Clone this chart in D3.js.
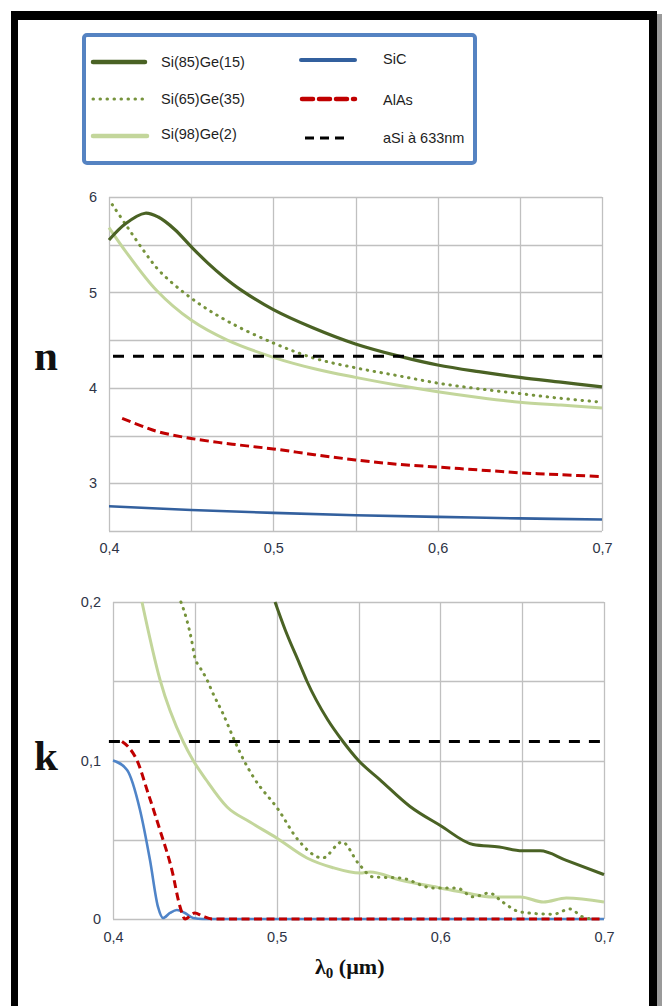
<!DOCTYPE html>
<html><head><meta charset="utf-8">
<script src="https://cdn.jsdelivr.net/npm/d3@7"></script>
<style>html,body{margin:0;padding:0;background:#fff;}svg{display:block;}</style>
</head><body>
<script>
// ---------- data ----------
const xTicks = [0.4, 0.45, 0.5, 0.55, 0.6, 0.65, 0.7];
const xTickLabels = ["0,4", "0,5", "0,6", "0,7"];
const xLabelValues = [0.4, 0.5, 0.6, 0.7];
const nGrid = [2.5, 3, 3.5, 4, 4.5, 5, 5.5, 6];
const nLabelValues = [3, 4, 5, 6];
const nTickLabels = ["3", "4", "5", "6"];
const kGrid = [0, 0.05, 0.1, 0.15, 0.2];
const kLabelValues = [0, 0.1, 0.2];
const kTickLabels = ["0", "0,1", "0,2"];

const seriesNames = ["Si(85)Ge(15)", "Si(65)Ge(35)", "Si(98)Ge(2)", "SiC", "AlAs", "aSi à 633nm"];

// refractive index n: [lambda (µm), n]
const nSiGe85 = [[0.4,5.55],[0.41,5.72],[0.422,5.83],[0.43,5.79],[0.44,5.66],[0.45,5.48],[0.46,5.31],[0.47,5.16],[0.48,5.03],[0.5,4.82],[0.524,4.63],[0.55,4.46],[0.577,4.33],[0.6,4.24],[0.625,4.17],[0.65,4.11],[0.675,4.06],[0.7,4.01]];
const nSiGe65 = [[0.402,5.92],[0.411,5.69],[0.421,5.44],[0.431,5.22],[0.45,4.94],[0.472,4.70],[0.5,4.47],[0.525,4.31],[0.55,4.21],[0.575,4.13],[0.6,4.05],[0.625,3.99],[0.65,3.94],[0.675,3.89],[0.7,3.85]];
const nSiGe98 = [[0.4,5.68],[0.411,5.41],[0.429,5.02],[0.45,4.71],[0.472,4.50],[0.5,4.32],[0.525,4.20],[0.55,4.11],[0.575,4.03],[0.6,3.96],[0.625,3.90],[0.65,3.85],[0.675,3.82],[0.7,3.79]];
const nSiC = [[0.4,2.76],[0.45,2.72],[0.5,2.69],[0.55,2.665],[0.6,2.648],[0.65,2.632],[0.7,2.62]];
const nAlAs = [[0.408,3.68],[0.42,3.60],[0.43,3.54],[0.45,3.47],[0.475,3.41],[0.5,3.36],[0.525,3.30],[0.55,3.245],[0.575,3.20],[0.6,3.17],[0.625,3.14],[0.65,3.11],[0.675,3.09],[0.7,3.07]];
const nASi = [[0.4,4.33],[0.7,4.33]];

// extinction coefficient k: [lambda (µm), k]
const kSiGe85 = [[0.499,0.2],[0.505,0.183],[0.514,0.161],[0.5185,0.15],[0.531,0.126],[0.5405,0.112],[0.55,0.100],[0.563,0.088],[0.5815,0.071],[0.6,0.059],[0.62,0.047],[0.636,0.0454],[0.65,0.043],[0.661,0.043],[0.677,0.037],[0.7,0.028]];
const kSiGe65 = [[0.4415,0.2],[0.445,0.189],[0.448,0.176],[0.45,0.165],[0.453,0.159],[0.4574,0.151],[0.461,0.1425],[0.467,0.13],[0.4745,0.112],[0.48,0.1],[0.4855,0.09],[0.501,0.069],[0.513,0.05],[0.528,0.0385],[0.54,0.0486],[0.55,0.035],[0.559,0.0265],[0.5755,0.0259],[0.5955,0.0196],[0.61,0.0196],[0.62,0.014],[0.63,0.0164],[0.638,0.0107],[0.649,0.0044],[0.669,0.003],[0.679,0.0063],[0.687,0.0013],[0.693,0]];
const kSiGe98 = [[0.4177,0.2],[0.4287,0.151],[0.4428,0.112],[0.449,0.1],[0.457,0.0877],[0.4697,0.0707],[0.4837,0.0612],[0.5,0.0511],[0.5185,0.0385],[0.534,0.0325],[0.551,0.029],[0.557,0.0297],[0.5755,0.0246],[0.6,0.0196],[0.616,0.0164],[0.632,0.0139],[0.649,0.0139],[0.663,0.0107],[0.677,0.0132],[0.7,0.0107]];
const kSiC = [[0.4,0.1],[0.4086,0.094],[0.4165,0.0688],[0.4226,0.0372],[0.4275,0.0076],[0.4306,0.0006],[0.4348,0.0038],[0.439,0.0057],[0.444,0.0038],[0.449,0.0006],[0.455,0],[0.7,0]];
const kAlAs = [[0.4055,0.112],[0.409,0.109],[0.4147,0.1],[0.4214,0.0795],[0.4287,0.0561],[0.436,0.0309],[0.441,0.0076],[0.444,0],[0.45,0.0038],[0.4544,0.002],[0.461,0],[0.7,0]];
const kASi = [[0.3975,0.112],[0.7,0.112]];

// ---------- styles ----------
const C = {
  g85: "#4a6224", g65: "#76933c", g98: "#c3d69b",
  sicTop: "#33609e", sicBot: "#4f84c8", alas: "#c00000", asi: "#000000",
  grid: "#c0c0c0", tick: "#2e3446"
};

const W = 662, H = 1006;
const svg = d3.select("body").append("svg").attr("width", W).attr("height", H);

// outer frame
svg.append("rect").attr("x", 0).attr("y", 0).attr("width", W).attr("height", H).attr("fill", "#fff");
svg.append("rect").attr("x", 656).attr("y", 14).attr("width", 6).attr("height", H).attr("fill", "#9a9a9a");
svg.append("rect").attr("x", 11).attr("y", 11).attr("width", 646).attr("height", 9).attr("fill", "#000");
svg.append("rect").attr("x", 11).attr("y", 11).attr("width", 7).attr("height", H).attr("fill", "#000");
svg.append("rect").attr("x", 649).attr("y", 11).attr("width", 8).attr("height", H).attr("fill", "#000");

// ---------- legend ----------
svg.append("rect").attr("x", 84).attr("y", 35).attr("width", 391).attr("height", 128)
  .attr("rx", 3).attr("fill", "#fff").attr("stroke", "#5583c2").attr("stroke-width", 4);

const legendItems = [
  {name: seriesNames[0], x1: 93, x2: 145, y: 62, ty: 67, tx: 161, color: C.g85, w: 4.5, dash: null, cap: "round"},
  {name: seriesNames[1], x1: 93, x2: 145, y: 99, ty: 104, tx: 161, color: C.g65, w: 3, dash: "0.5,6.5", cap: "round"},
  {name: seriesNames[2], x1: 93, x2: 147, y: 136, ty: 139, tx: 161, color: C.g98, w: 4.5, dash: null, cap: "round"},
  {name: seriesNames[3], x1: 301, x2: 355, y: 60, ty: 64, tx: 383, color: C.sicTop, w: 4, dash: null, cap: "round"},
  {name: seriesNames[4], x1: 302, x2: 355, y: 99, ty: 105, tx: 383, color: C.alas, w: 4.5, dash: "11,6", cap: "round"},
  {name: seriesNames[5], x1: 305, x2: 348, y: 138, ty: 143, tx: 383, color: C.asi, w: 3, dash: "9,6", cap: "butt"}
];
const lg = svg.append("g");
legendItems.forEach(d => {
  lg.append("line").attr("x1", d.x1).attr("x2", d.x2).attr("y1", d.y).attr("y2", d.y)
    .attr("stroke", d.color).attr("stroke-width", d.w).attr("stroke-linecap", d.cap)
    .attr("stroke-dasharray", d.dash);
  lg.append("text").attr("x", d.tx).attr("y", d.ty).text(d.name)
    .attr("font-family", "Liberation Sans, Arial, sans-serif").attr("font-size", 14.5).attr("fill", "#1e1e1e");
});

// ---------- helpers ----------
function drawGrid(g, x, y, yGrid) {
  const [x0, x1] = x.range(), [yb, yt] = y.range();
  g.selectAll(".vg").data(xTicks).join("line")
    .attr("x1", d => Math.round(x(d)) + 0.5).attr("x2", d => Math.round(x(d)) + 0.5)
    .attr("y1", yt).attr("y2", yb).attr("stroke", C.grid).attr("stroke-width", 1.3);
  g.selectAll(".hg").data(yGrid).join("line")
    .attr("x1", x0).attr("x2", x1)
    .attr("y1", d => Math.round(y(d)) + 0.5).attr("y2", d => Math.round(y(d)) + 0.5)
    .attr("stroke", C.grid).attr("stroke-width", 1.3);
}
function drawSeries(g, x, y, data, color, width, dash, cap, curve) {
  const line = d3.line().x(d => x(d[0])).y(d => y(d[1])).curve(curve || d3.curveMonotoneX);
  g.append("path").datum(data).attr("d", line).attr("fill", "none")
    .attr("stroke", color).attr("stroke-width", width)
    .attr("stroke-dasharray", dash).attr("stroke-linecap", cap || "butt")
    .attr("stroke-linejoin", "round");
}
const tickFont = "Liberation Sans, Arial, sans-serif";
const tickSize = 14.5;
const smooth = d3.curveCatmullRom.alpha(0.5);

// ---------- top chart : n ----------
const xN = d3.scaleLinear().domain([0.4, 0.7]).range([109, 602]);
const yN = d3.scaleLinear().domain([2.5, 6]).range([531, 197]);
const gN = svg.append("g");
drawGrid(gN, xN, yN, nGrid);

const yAxisN = d3.axisLeft(yN).tickValues(nLabelValues).tickFormat((d, i) => nTickLabels[i]).tickSize(0).tickPadding(12);
gN.append("g").attr("transform", `translate(109,0)`).call(yAxisN)
  .call(g => g.select(".domain").remove())
  .selectAll("text").attr("font-family", tickFont).attr("font-size", tickSize).attr("fill", C.tick);
const xAxisN = d3.axisBottom(xN).tickValues(xLabelValues).tickFormat((d, i) => xTickLabels[i]).tickSize(0).tickPadding(12);
gN.append("g").attr("transform", `translate(0,531)`).call(xAxisN)
  .call(g => g.select(".domain").remove())
  .selectAll("text").attr("font-family", tickFont).attr("font-size", tickSize).attr("fill", C.tick);

drawSeries(gN, xN, yN, nSiC, C.sicTop, 2.6, null, null, smooth);
drawSeries(gN, xN, yN, nAlAs, C.alas, 3, "9,4.5", null, smooth);
drawSeries(gN, xN, yN, nSiGe98, C.g98, 3, null, null, smooth);
drawSeries(gN, xN, yN, nSiGe65, C.g65, 3, "0.5,6.5", "round", smooth);
drawSeries(gN, xN, yN, nSiGe85, C.g85, 3.2, null, null, smooth);
drawSeries(gN, d3.scaleLinear().domain([0.4, 0.7]).range([113, 602]), yN, nASi, C.asi, 3, "11,9");

svg.append("text").attr("x", 34).attr("y", 370).text("n")
  .attr("font-family", "Liberation Serif, Times New Roman, serif").attr("font-weight", "bold")
  .attr("font-size", 43).attr("fill", "#111");

// ---------- bottom chart : k ----------
const xK = d3.scaleLinear().domain([0.4, 0.7]).range([113, 604]);
const yK = d3.scaleLinear().domain([0, 0.2]).range([919, 602]);
const gK = svg.append("g");
drawGrid(gK, xK, yK, kGrid);

const yAxisK = d3.axisLeft(yK).tickValues(kLabelValues).tickFormat((d, i) => kTickLabels[i]).tickSize(0).tickPadding(12);
gK.append("g").attr("transform", `translate(113,0)`).call(yAxisK)
  .call(g => g.select(".domain").remove())
  .selectAll("text").attr("font-family", tickFont).attr("font-size", tickSize).attr("fill", C.tick);
const xAxisK = d3.axisBottom(xK).tickValues(xLabelValues).tickFormat((d, i) => xTickLabels[i]).tickSize(0).tickPadding(13);
gK.append("g").attr("transform", `translate(0,919)`).call(xAxisK)
  .call(g => g.select(".domain").remove())
  .selectAll("text").attr("font-family", tickFont).attr("font-size", tickSize).attr("fill", C.tick);

svg.append("clipPath").attr("id", "kclip").append("rect")
  .attr("x", 100).attr("y", 600).attr("width", 510).attr("height", 325);
const gKs = gK.append("g").attr("clip-path", "url(#kclip)");
drawSeries(gKs, xK, yK, kSiC, C.sicBot, 2.6);
drawSeries(gKs, xK, yK, kAlAs, C.alas, 3, "8,4.5");
drawSeries(gKs, xK, yK, kSiGe98, C.g98, 3);
drawSeries(gKs, xK, yK, kSiGe65, C.g65, 3, "0.5,6.5", "round");
drawSeries(gKs, xK, yK, kSiGe85, C.g85, 3);
drawSeries(gKs, xK, yK, kASi, C.asi, 3, "11,9");

svg.append("text").attr("x", 34).attr("y", 770).text("k")
  .attr("font-family", "Liberation Serif, Times New Roman, serif").attr("font-weight", "bold")
  .attr("font-size", 43).attr("fill", "#111");

// axis title
const title = svg.append("text").attr("x", 315).attr("y", 974)
  .attr("font-family", "Liberation Serif, Times New Roman, serif").attr("font-weight", "bold")
  .attr("font-size", 22).attr("fill", "#111");
title.append("tspan").text("λ");
title.append("tspan").attr("font-size", 15).attr("dy", 4).text("0");
title.append("tspan").attr("dy", -4).text(" (µm)");
</script>
</body></html>
